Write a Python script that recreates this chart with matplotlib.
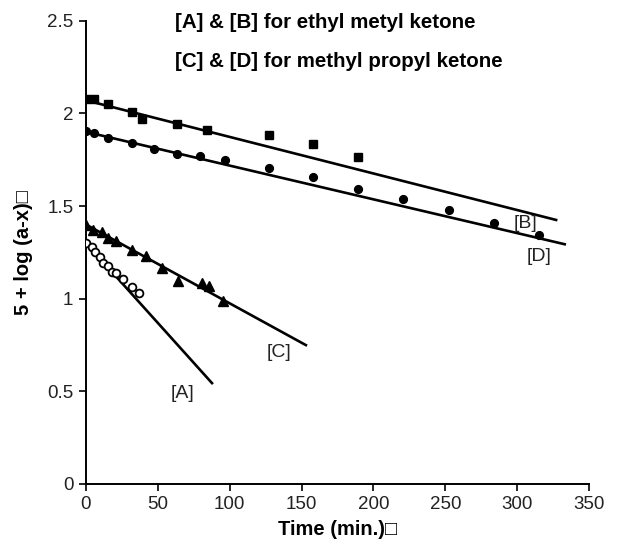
import matplotlib
matplotlib.use("Agg")
import matplotlib.pyplot as plt

plt.rcParams['font.family'] = ['Liberation Sans', 'DejaVu Sans']

# [A] ethyl methyl ketone (open circles)
t_A = [0, 4, 6, 10, 12, 15, 18, 21, 26, 32, 37]
v_A = [1.30, 1.28, 1.25, 1.225, 1.19, 1.175, 1.145, 1.14, 1.105, 1.065, 1.03]
# [B] ethyl methyl ketone (filled squares)
t_B = [0, 5.5, 15.5, 32, 39, 63, 84, 127, 158, 189.5]
v_B = [2.08, 2.075, 2.05, 2.007, 1.968, 1.94, 1.912, 1.881, 1.837, 1.765]
# [C] methyl propyl ketone (filled triangles)
t_C = [0, 5, 11, 15.5, 21, 32, 42, 53, 64, 81, 85.5, 95.5]
v_C = [1.40, 1.369, 1.36, 1.33, 1.31, 1.262, 1.232, 1.166, 1.094, 1.086, 1.066, 0.99]
# [D] methyl propyl ketone (filled circles)
t_D = [0, 5.5, 15.5, 32, 47, 63, 79, 97, 127, 158, 189.5, 220.5, 252.5, 284, 315]
v_D = [1.905, 1.894, 1.869, 1.84, 1.81, 1.781, 1.77, 1.747, 1.707, 1.657, 1.59, 1.54, 1.477, 1.409, 1.342]

# fitted lines (start / end)
line_A_t = [0, 88.3]
line_A_v = [1.30, 0.539]
line_B_t = [0, 328]
line_B_v = [2.07, 1.423]
line_C_t = [0, 153.8]
line_C_v = [1.40, 0.746]
line_D_t = [0, 334]
line_D_v = [1.90, 1.292]

x_ticks = [0, 50, 100, 150, 200, 250, 300, 350]
y_ticks = [0, 0.5, 1, 1.5, 2, 2.5]
y_tick_labels = ['0', '0.5', '1', '1.5', '2', '2.5']

fig = plt.figure(figsize=(6.29, 5.44), dpi=100)
ax = fig.add_axes([0.1367, 0.1103, 0.7997, 0.8517])

lw = 1.9
for lt, lv in [(line_A_t, line_A_v), (line_B_t, line_B_v),
               (line_C_t, line_C_v), (line_D_t, line_D_v)]:
    ax.plot(lt, lv, color='black', lw=lw, zorder=2, solid_capstyle='butt')

ax.plot(t_A, v_A, 'o', mfc='white', mec='black', mew=1.3, ms=5.6, ls='none', zorder=3)
ax.plot(t_B, v_B, 's', color='black', ms=5.8, ls='none', zorder=3)
ax.plot(t_C, v_C, '^', color='black', ms=6.5, ls='none', zorder=3)
ax.plot(t_D, v_D, 'o', color='black', ms=5.6, ls='none', zorder=3)

ax.set_xlim(0, 350)
ax.set_ylim(0, 2.5)
ax.set_xticks(x_ticks)
ax.set_yticks(y_ticks)
ax.set_yticklabels(y_tick_labels)
for s in ['top', 'right']:
    ax.spines[s].set_visible(False)
for s in ['left', 'bottom']:
    ax.spines[s].set_linewidth(1.4)
ax.tick_params(direction='out', length=5, width=1.2, labelsize=13.5, pad=4,
               colors='black')
ax.tick_params(axis='y', labelcolor='#222222')
ax.tick_params(axis='x', labelcolor='#222222')
ax.set_xlabel('Time (min.)\u25a1', fontsize=14.5, fontweight='bold', labelpad=5)
ax.set_ylabel('5 + log (a-x)\u25a1', fontsize=14.5, fontweight='bold', labelpad=10)

ax.text(62, 2.49, '[A] & [B] for ethyl metyl ketone', fontsize=14.8,
        fontweight='bold', ha='left', va='center')
ax.text(62, 2.28, '[C] & [D] for methyl propyl ketone', fontsize=14.8,
        fontweight='bold', ha='left', va='center')

lab_kw = dict(fontsize=14, ha='center', va='center', color='#222222')
ax.text(67, 0.49, '[A]', **lab_kw)
ax.text(134, 0.708, '[C]', **lab_kw)
ax.text(306, 1.405, '[B]', **lab_kw)
ax.text(315, 1.225, '[D]', **lab_kw)

fig.savefig('out.png', dpi=100)
